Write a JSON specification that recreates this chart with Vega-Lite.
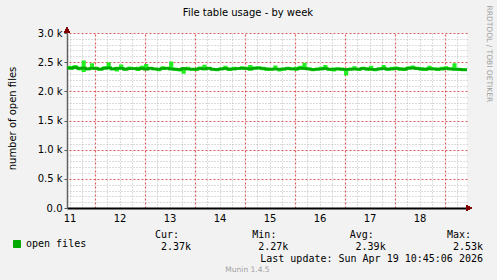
{
  "$schema": "https://vega.github.io/schema/vega-lite/v6.json",
  "width": 400,
  "height": 175,
  "autosize": {"type": "none"},
  "padding": {"left": 67, "top": 33, "right": 30, "bottom": 72},
  "background": "#f2f2f2",
  "title": {"text": "File table usage - by week", "font": "DejaVu Sans", "fontSize": 10, "fontWeight": "normal", "color": "#000000", "anchor": "middle", "frame": "group", "dx": -19, "dy": 24, "offset": 11},
  "config": {
    "view": {"fill": "#ffffff", "stroke": null},
    "font": "DejaVu Sans",
    "axis": {"labelFont": "DejaVu Sans", "labelFontSize": 10, "labelColor": "#000000", "titleFont": "DejaVu Sans", "titleFontWeight": "normal"}
  },
  "datasets": {
    "ft": [
      {"t": "2026-04-11T10:45:00Z", "v": 2405, "lo": 2385, "hi": 2425},
      {"t": "2026-04-11T12:45:00Z", "v": 2395, "lo": 2370, "hi": 2440},
      {"t": "2026-04-11T14:45:00Z", "v": 2410, "lo": 2385, "hi": 2450},
      {"t": "2026-04-11T16:45:00Z", "v": 2390, "lo": 2360, "hi": 2420},
      {"t": "2026-04-11T18:45:00Z", "v": 2400, "lo": 2330, "hi": 2530},
      {"t": "2026-04-11T20:45:00Z", "v": 2385, "lo": 2360, "hi": 2410},
      {"t": "2026-04-11T22:45:00Z", "v": 2395, "lo": 2370, "hi": 2480},
      {"t": "2026-04-12T00:45:00Z", "v": 2390, "lo": 2365, "hi": 2420},
      {"t": "2026-04-12T02:45:00Z", "v": 2380, "lo": 2355, "hi": 2405},
      {"t": "2026-04-12T04:45:00Z", "v": 2395, "lo": 2370, "hi": 2430},
      {"t": "2026-04-12T06:45:00Z", "v": 2405, "lo": 2375, "hi": 2500},
      {"t": "2026-04-12T08:45:00Z", "v": 2385, "lo": 2360, "hi": 2415},
      {"t": "2026-04-12T10:45:00Z", "v": 2390, "lo": 2340, "hi": 2420},
      {"t": "2026-04-12T12:45:00Z", "v": 2395, "lo": 2370, "hi": 2460},
      {"t": "2026-04-12T14:45:00Z", "v": 2380, "lo": 2355, "hi": 2410},
      {"t": "2026-04-12T16:45:00Z", "v": 2388, "lo": 2365, "hi": 2425},
      {"t": "2026-04-12T18:45:00Z", "v": 2392, "lo": 2370, "hi": 2415},
      {"t": "2026-04-12T20:45:00Z", "v": 2385, "lo": 2350, "hi": 2420},
      {"t": "2026-04-12T22:45:00Z", "v": 2390, "lo": 2365, "hi": 2440},
      {"t": "2026-04-13T00:45:00Z", "v": 2380, "lo": 2360, "hi": 2470},
      {"t": "2026-04-13T02:45:00Z", "v": 2395, "lo": 2370, "hi": 2420},
      {"t": "2026-04-13T04:45:00Z", "v": 2385, "lo": 2360, "hi": 2410},
      {"t": "2026-04-13T06:45:00Z", "v": 2378, "lo": 2345, "hi": 2405},
      {"t": "2026-04-13T08:45:00Z", "v": 2390, "lo": 2365, "hi": 2430},
      {"t": "2026-04-13T10:45:00Z", "v": 2395, "lo": 2370, "hi": 2420},
      {"t": "2026-04-13T12:45:00Z", "v": 2385, "lo": 2360, "hi": 2510},
      {"t": "2026-04-13T14:45:00Z", "v": 2380, "lo": 2350, "hi": 2410},
      {"t": "2026-04-13T16:45:00Z", "v": 2375, "lo": 2340, "hi": 2400},
      {"t": "2026-04-13T18:45:00Z", "v": 2390, "lo": 2300, "hi": 2415},
      {"t": "2026-04-13T20:45:00Z", "v": 2385, "lo": 2360, "hi": 2420},
      {"t": "2026-04-13T22:45:00Z", "v": 2380, "lo": 2355, "hi": 2405},
      {"t": "2026-04-14T00:45:00Z", "v": 2380, "lo": 2350, "hi": 2410},
      {"t": "2026-04-14T02:45:00Z", "v": 2390, "lo": 2365, "hi": 2425},
      {"t": "2026-04-14T04:45:00Z", "v": 2385, "lo": 2360, "hi": 2455},
      {"t": "2026-04-14T06:45:00Z", "v": 2395, "lo": 2370, "hi": 2420},
      {"t": "2026-04-14T08:45:00Z", "v": 2380, "lo": 2355, "hi": 2405},
      {"t": "2026-04-14T10:45:00Z", "v": 2375, "lo": 2345, "hi": 2400},
      {"t": "2026-04-14T12:45:00Z", "v": 2385, "lo": 2360, "hi": 2415},
      {"t": "2026-04-14T14:45:00Z", "v": 2390, "lo": 2365, "hi": 2440},
      {"t": "2026-04-14T16:45:00Z", "v": 2380, "lo": 2350, "hi": 2410},
      {"t": "2026-04-14T18:45:00Z", "v": 2385, "lo": 2360, "hi": 2420},
      {"t": "2026-04-14T20:45:00Z", "v": 2390, "lo": 2365, "hi": 2415},
      {"t": "2026-04-14T22:45:00Z", "v": 2395, "lo": 2370, "hi": 2430},
      {"t": "2026-04-15T00:45:00Z", "v": 2390, "lo": 2365, "hi": 2420},
      {"t": "2026-04-15T02:45:00Z", "v": 2385, "lo": 2355, "hi": 2450},
      {"t": "2026-04-15T04:45:00Z", "v": 2395, "lo": 2370, "hi": 2425},
      {"t": "2026-04-15T06:45:00Z", "v": 2400, "lo": 2375, "hi": 2430},
      {"t": "2026-04-15T08:45:00Z", "v": 2390, "lo": 2360, "hi": 2420},
      {"t": "2026-04-15T10:45:00Z", "v": 2385, "lo": 2350, "hi": 2410},
      {"t": "2026-04-15T12:45:00Z", "v": 2380, "lo": 2355, "hi": 2405},
      {"t": "2026-04-15T14:45:00Z", "v": 2385, "lo": 2360, "hi": 2445},
      {"t": "2026-04-15T16:45:00Z", "v": 2378, "lo": 2340, "hi": 2405},
      {"t": "2026-04-15T18:45:00Z", "v": 2382, "lo": 2355, "hi": 2410},
      {"t": "2026-04-15T20:45:00Z", "v": 2390, "lo": 2365, "hi": 2420},
      {"t": "2026-04-15T22:45:00Z", "v": 2385, "lo": 2360, "hi": 2415},
      {"t": "2026-04-16T00:45:00Z", "v": 2385, "lo": 2355, "hi": 2420},
      {"t": "2026-04-16T02:45:00Z", "v": 2395, "lo": 2370, "hi": 2440},
      {"t": "2026-04-16T04:45:00Z", "v": 2390, "lo": 2365, "hi": 2490},
      {"t": "2026-04-16T06:45:00Z", "v": 2385, "lo": 2360, "hi": 2415},
      {"t": "2026-04-16T08:45:00Z", "v": 2375, "lo": 2345, "hi": 2400},
      {"t": "2026-04-16T10:45:00Z", "v": 2380, "lo": 2355, "hi": 2410},
      {"t": "2026-04-16T12:45:00Z", "v": 2385, "lo": 2360, "hi": 2420},
      {"t": "2026-04-16T14:45:00Z", "v": 2390, "lo": 2365, "hi": 2450},
      {"t": "2026-04-16T16:45:00Z", "v": 2380, "lo": 2350, "hi": 2405},
      {"t": "2026-04-16T18:45:00Z", "v": 2378, "lo": 2340, "hi": 2410},
      {"t": "2026-04-16T20:45:00Z", "v": 2385, "lo": 2360, "hi": 2415},
      {"t": "2026-04-16T22:45:00Z", "v": 2380, "lo": 2355, "hi": 2410},
      {"t": "2026-04-17T00:45:00Z", "v": 2375, "lo": 2270, "hi": 2400},
      {"t": "2026-04-17T02:45:00Z", "v": 2380, "lo": 2355, "hi": 2410},
      {"t": "2026-04-17T04:45:00Z", "v": 2385, "lo": 2360, "hi": 2430},
      {"t": "2026-04-17T06:45:00Z", "v": 2378, "lo": 2350, "hi": 2405},
      {"t": "2026-04-17T08:45:00Z", "v": 2390, "lo": 2365, "hi": 2420},
      {"t": "2026-04-17T10:45:00Z", "v": 2385, "lo": 2355, "hi": 2415},
      {"t": "2026-04-17T12:45:00Z", "v": 2380, "lo": 2355, "hi": 2440},
      {"t": "2026-04-17T14:45:00Z", "v": 2375, "lo": 2345, "hi": 2400},
      {"t": "2026-04-17T16:45:00Z", "v": 2385, "lo": 2360, "hi": 2415},
      {"t": "2026-04-17T18:45:00Z", "v": 2390, "lo": 2365, "hi": 2450},
      {"t": "2026-04-17T20:45:00Z", "v": 2380, "lo": 2355, "hi": 2410},
      {"t": "2026-04-17T22:45:00Z", "v": 2385, "lo": 2360, "hi": 2420},
      {"t": "2026-04-18T00:45:00Z", "v": 2390, "lo": 2365, "hi": 2425},
      {"t": "2026-04-18T02:45:00Z", "v": 2385, "lo": 2355, "hi": 2415},
      {"t": "2026-04-18T04:45:00Z", "v": 2380, "lo": 2350, "hi": 2410},
      {"t": "2026-04-18T06:45:00Z", "v": 2395, "lo": 2370, "hi": 2430},
      {"t": "2026-04-18T08:45:00Z", "v": 2400, "lo": 2375, "hi": 2445},
      {"t": "2026-04-18T10:45:00Z", "v": 2390, "lo": 2365, "hi": 2420},
      {"t": "2026-04-18T12:45:00Z", "v": 2385, "lo": 2355, "hi": 2415},
      {"t": "2026-04-18T14:45:00Z", "v": 2380, "lo": 2350, "hi": 2410},
      {"t": "2026-04-18T16:45:00Z", "v": 2388, "lo": 2360, "hi": 2440},
      {"t": "2026-04-18T18:45:00Z", "v": 2385, "lo": 2360, "hi": 2415},
      {"t": "2026-04-18T20:45:00Z", "v": 2380, "lo": 2350, "hi": 2410},
      {"t": "2026-04-18T22:45:00Z", "v": 2385, "lo": 2360, "hi": 2420},
      {"t": "2026-04-19T00:45:00Z", "v": 2390, "lo": 2365, "hi": 2430},
      {"t": "2026-04-19T02:45:00Z", "v": 2385, "lo": 2360, "hi": 2415},
      {"t": "2026-04-19T04:45:00Z", "v": 2380, "lo": 2355, "hi": 2480},
      {"t": "2026-04-19T06:45:00Z", "v": 2378, "lo": 2350, "hi": 2405},
      {"t": "2026-04-19T08:45:00Z", "v": 2372, "lo": 2345, "hi": 2400},
      {"t": "2026-04-19T10:45:00Z", "v": 2370, "lo": 2345, "hi": 2395}
    ],
    "stats": [
      {"c": "Cur", "h": "Cur:", "v": "2.37k"},
      {"c": "Min", "h": "Min:", "v": "2.27k"},
      {"c": "Avg", "h": "Avg:", "v": "2.39k"},
      {"c": "Max", "h": "Max:", "v": "2.53k"}
    ]
  },
  "layer": [
    {
      "data": {"name": "ft"},
      "layer": [
        {
          "mark": {"type": "area", "interpolate": "step", "color": "#22ee22", "opacity": 1},
          "encoding": {
            "x": {"field": "t", "type": "temporal", "scale": {"type": "utc", "domain": [1775904300000, 1776595500000]},
              "axis": {"orient": "top", "values": [1775908800000, 1775930400000, 1775973600000, 1775995200000, 1776016800000, 1776060000000, 1776081600000, 1776103200000, 1776146400000, 1776168000000, 1776189600000, 1776232800000, 1776254400000, 1776276000000, 1776319200000, 1776340800000, 1776362400000, 1776405600000, 1776427200000, 1776448800000, 1776492000000, 1776513600000, 1776535200000, 1776578400000], "grid": true, "gridColor": "#b8b8b8", "gridDash": [1, 2], "labels": false, "ticks": false, "domain": false, "title": null}},
            "y": {"field": "lo", "type": "quantitative", "scale": {"domain": [0, 3000], "nice": false},
              "axis": {"orient": "right", "values": [100, 200, 300, 400, 600, 700, 800, 900, 1100, 1200, 1300, 1400, 1600, 1700, 1800, 1900, 2100, 2200, 2300, 2400, 2600, 2700, 2800, 2900], "grid": true, "gridColor": "#b8b8b8", "gridDash": [1, 2], "labels": false, "ticks": false, "domain": false, "title": null}},
            "y2": {"field": "hi"}
          }
        },
        {
          "mark": {"type": "line", "interpolate": "step", "strokeWidth": 2.5},
          "encoding": {
            "x": {"field": "t", "type": "temporal",
              "axis": {"orient": "top", "values": [1775952000000, 1776038400000, 1776124800000, 1776211200000, 1776297600000, 1776384000000, 1776470400000, 1776556800000], "grid": true, "gridColor": "#e05a5a", "gridDash": [2, 2], "gridWidth": 1.2, "gridOpacity": 1, "labels": false, "ticks": false, "domain": false, "title": null}},
            "y": {"field": "v", "type": "quantitative",
              "axis": {"orient": "right", "values": [500, 1000, 1500, 2000, 2500, 3000], "grid": true, "gridColor": "#e05a5a", "gridDash": [2, 2], "gridWidth": 1.2, "gridOpacity": 1, "labels": false, "ticks": false, "domain": false,
                "title": "RRDTOOL / TOBI OETIKER", "titleFont": "DejaVu Sans", "titleFontSize": 7.5, "titleColor": "#a0a0a0", "titleAngle": 90, "titleAlign": "left", "titleBaseline": "middle", "titleX": 21, "titleY": -28}},
            "color": {"datum": "open files", "type": "nominal", "scale": {"range": ["#00a800"]},
              "legend": {"title": null, "orient": "none", "legendX": -55, "legendY": 206, "padding": 0, "symbolType": "square", "symbolSize": 49, "labelFont": "DejaVu Sans Mono", "labelFontSize": 10, "labelColor": "#000000", "labelOffset": 4,
                "encode": {"symbols": {"update": {"fill": {"value": "#00aa00"}, "stroke": {"value": "#000000"}, "strokeWidth": {"value": 1}}}}}}
          }
        },
        {
          "mark": {"type": "line", "strokeWidth": 0, "opacity": 0},
          "encoding": {
            "x": {"field": "t", "type": "temporal",
              "axis": {"orient": "bottom", "values": [1775952000000, 1776038400000, 1776124800000, 1776211200000, 1776297600000, 1776384000000, 1776470400000, 1776556800000], "labelOffset": -25, "labelExpr": "utcFormat(datum.value - 86400000, '%d')", "grid": false, "ticks": false, "domain": true, "domainColor": "#000000", "domainWidth": 2, "labelPadding": 5,
                "title": "Munin 1.4.5", "titleFontSize": 7.5, "titleColor": "#a0a0a0", "titleX": 180, "titleY": 61, "titleAlign": "center", "titleBaseline": "middle"}},
            "y": {"field": "v", "type": "quantitative",
              "axis": {"orient": "left", "values": [0, 500, 1000, 1500, 2000, 2500, 3000], "labelExpr": "datum.value == 0 ? '0.0' : format(datum.value / 1000, '.1f') + ' k'", "grid": false, "tickSize": 3, "tickColor": "#555555", "labelPadding": 2, "domain": true, "domainColor": "#606060", "domainWidth": 1.5,
                "title": "number of open files", "titleFontSize": 10, "titleColor": "#000000", "titleX": -55, "titleY": 85, "titleAlign": "center", "titleBaseline": "middle"}}
          }
        },
        {
          "mark": {"type": "point", "shape": "triangle-up", "filled": true, "color": "#800000", "size": 30, "yOffset": -3, "opacity": 1},
          "encoding": {
            "x": {"datum": 1775904300000, "type": "temporal", "axis": null},
            "y": {"datum": 3000, "type": "quantitative", "axis": null}
          }
        },
        {
          "mark": {"type": "point", "shape": "triangle-right", "filled": true, "color": "#800000", "size": 30, "xOffset": 2, "opacity": 1},
          "encoding": {
            "x": {"datum": 1776595500000, "type": "temporal", "axis": null},
            "y": {"datum": 0, "type": "quantitative", "axis": null}
          }
        }
      ],
      "resolve": {"axis": {"x": "independent", "y": "independent"}}
    },
    {
      "data": {"name": "stats"},
      "encoding": {
        "x": {"field": "c", "type": "nominal", "scale": {"type": "point", "domain": ["Cur", "Min", "Avg", "Max"], "range": [88, 380], "padding": 0}, "axis": null}
      },
      "layer": [
        {
          "mark": {"type": "text", "align": "left", "baseline": "middle", "font": "DejaVu Sans Mono", "fontSize": 10, "color": "#000000"},
          "encoding": {
            "y": {"datum": "hdr", "type": "nominal", "scale": {"type": "point", "domain": ["hdr", "val", "upd"], "range": [202, 225.5], "padding": 0}, "axis": null},
            "text": {"field": "h"}
          }
        },
        {
          "mark": {"type": "text", "align": "right", "baseline": "middle", "font": "DejaVu Sans Mono", "fontSize": 10, "color": "#000000", "dx": 36},
          "encoding": {
            "y": {"datum": "val", "type": "nominal"},
            "text": {"field": "v"}
          }
        },
        {
          "data": {"values": [{"c": "Max", "u": "Last update: Sun Apr 19 10:45:06 2026"}]},
          "mark": {"type": "text", "align": "right", "baseline": "middle", "font": "DejaVu Sans Mono", "fontSize": 10, "color": "#000000", "dx": 36},
          "encoding": {
            "y": {"datum": "upd", "type": "nominal"},
            "text": {"field": "u"}
          }
        }
      ]
    }
  ],
  "resolve": {"scale": {"x": "independent", "y": "independent"}}
}
